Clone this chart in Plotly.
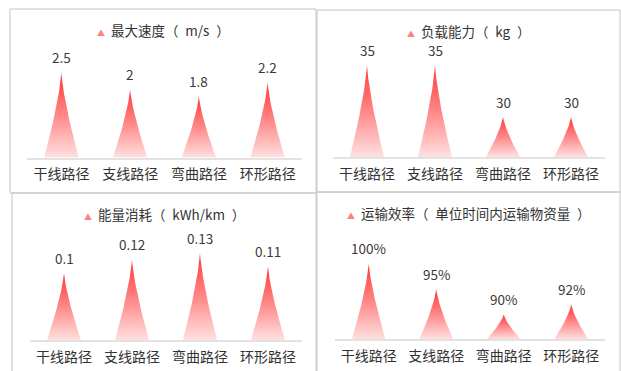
import numpy as np
import plotly.graph_objects as go

# ---- data -------------------------------------------------------------
categories = ["干线路径", "支线路径", "弯曲路径", "环形路径"]

speed = [2.5, 2, 1.8, 2.2]
load = [35, 35, 30, 30]
energy = [0.1, 0.12, 0.13, 0.11]
efficiency = [100, 95, 90, 92]

speed_labels = ["2.5", "2", "1.8", "2.2"]
load_labels = ["35", "35", "30", "30"]
energy_labels = ["0.1", "0.12", "0.13", "0.11"]
efficiency_labels = ["100%", "95%", "90%", "92%"]

titles = [
    "最大速度（\u2002m/s\u2002）",
    "负载能力（\u2002kg\u2002）",
    "能量消耗（\u2002kWh/km\u2002）",
    "运输效率（\u2002单位时间内运输物资量\u2002）",
]

# ---- page geometry ----------------------------------------------------
W, H = 621, 371
FONT = "Noto Sans CJK SC"


def px(x):
    return x / W


def py(y):
    return 1 - y / H


# per panel: axis minimum, pixels per unit, baseline (px), x-axis extent, box
panels = [
    dict(values=speed, labels=speed_labels, ymin=0, scale=34.2, base=157.5,
         x0=27, x1=302, box=(10, 9, 316, 193)),
    dict(values=load, labels=load_labels, ymin=26.1, scale=10.33, base=157,
         x0=333, x1=605, box=(317, 10, 620, 192)),
    dict(values=energy, labels=energy_labels, ymin=0, scale=671.5, base=340,
         x0=30, x1=302, box=(12, 193, 316, 380)),
    dict(values=efficiency, labels=efficiency_labels, ymin=85.1, scale=5.1, base=339.3,
         x0=335, x1=605, box=(317, 192, 620, 380)),
]

PLOT_H = 112          # px height of each value area
HALF_W = 0.25         # half width of a spike, in category units
gradient = [
    [0.0, "rgb(255,224,224)"],
    [0.5, "rgb(255,135,135)"],
    [1.0, "rgb(255,55,55)"],
]

fig = go.Figure()
layout = dict(shapes=[], annotations=[])

h = np.linspace(0, 1, 50)
half = HALF_W * (1 - h) ** 1.35

for k, p in enumerate(panels):
    sfx = "" if k == 0 else str(k + 1)
    xa, ya = "x" + sfx, "y" + sfx
    ymin = p["ymin"]
    ymax = ymin + PLOT_H / p["scale"]

    for i, v in enumerate(p["values"]):
        ys = ymin + h * (v - ymin)
        xs = np.concatenate([i - half, (i + half)[::-1]])
        yy = np.concatenate([ys, ys[::-1]])
        fig.add_trace(go.Scatter(
            x=xs, y=yy, mode="lines", line=dict(width=0),
            fill="toself",
            fillgradient=dict(type="vertical", colorscale=gradient),
            hoverinfo="skip", showlegend=False, xaxis=xa, yaxis=ya,
        ))
        layout["annotations"].append(dict(
            x=i, y=v, xref=xa, yref=ya, text=p["labels"][i], showarrow=False,
            yanchor="middle", yshift=15,
            font=dict(family=FONT, size=13.5, color="#3a3a3a"),
        ))

    layout["xaxis" + sfx] = dict(
        domain=[px(p["x0"]), px(p["x1"])], anchor=ya,
        range=[-0.5, 3.5], tickvals=list(range(len(categories))), ticktext=categories,
        showgrid=False, zeroline=False, showline=True, linecolor="#e2e2e2", linewidth=1.5,
        ticks="", ticklabelstandoff=3, tickfont=dict(family=FONT, size=14, color="#333"),
        fixedrange=True,
    )
    layout["yaxis" + sfx] = dict(
        domain=[py(p["base"]), py(p["base"] - PLOT_H)], anchor=xa,
        range=[ymin, ymax], visible=False, fixedrange=True,
    )

    bx0, by0, bx1, by1 = p["box"]
    layout["shapes"].append(dict(
        type="rect", xref="paper", yref="paper",
        x0=px(bx0), x1=px(bx1), y0=py(by0), y1=py(by1),
        line=dict(color="#c4c4c4", width=1), fillcolor="rgba(0,0,0,0)", layer="below",
    ))
    layout["annotations"].append(dict(
        x=px((bx0 + bx1) / 2), y=py(by0 + 20.5), xref="paper", yref="paper",
        xanchor="center", yanchor="middle", showarrow=False,
        text='<span style="font-size:8px;color:#ff8080">▲</span>\u00a0\u00a0' + titles[k],
        font=dict(family=FONT, size=13.5, color="#333"),
    ))

fig.update_layout(
    width=W, height=H,
    margin=dict(l=0, r=0, t=0, b=0),
    paper_bgcolor="white", plot_bgcolor="rgba(0,0,0,0)",
    showlegend=False,
    **layout,
)

fig.write_html("out.html", config={"displayModeBar": False})
